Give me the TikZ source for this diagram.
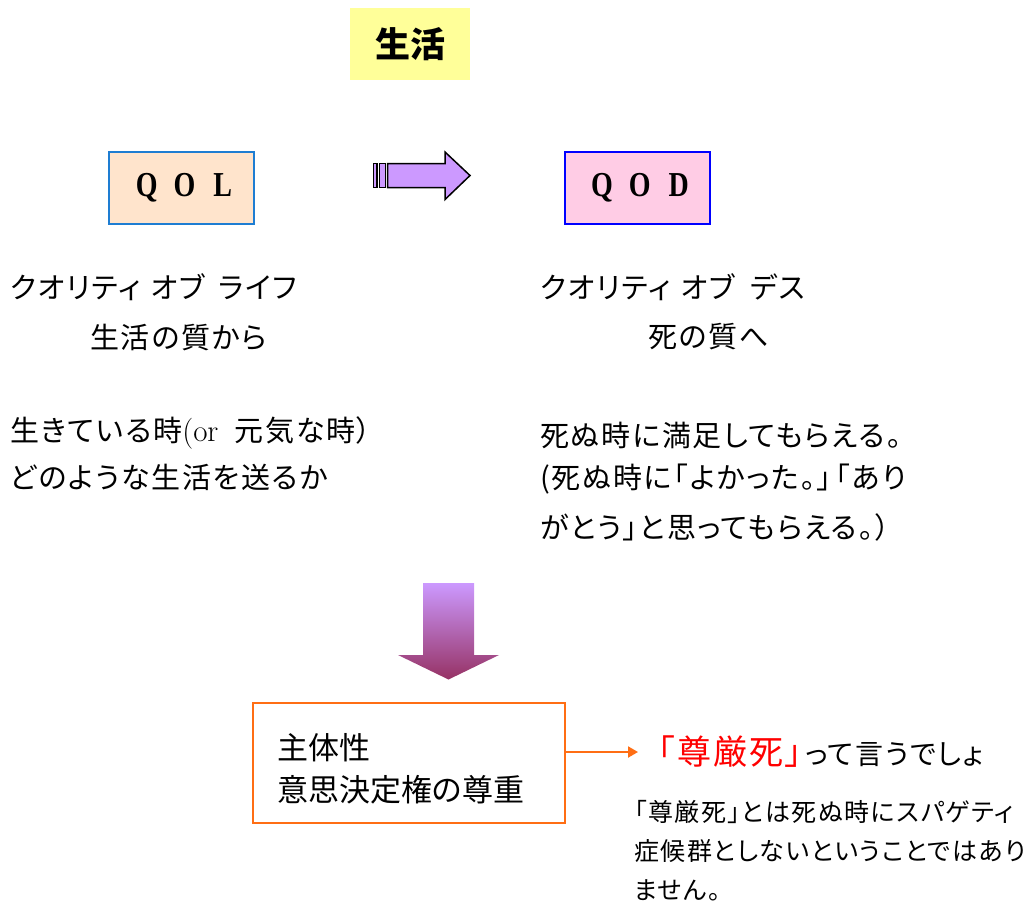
\documentclass[tikz,border=0pt]{standalone}
\usepackage{graphicx}
\usepackage{fontspec}
\newfontfamily\jp[RawFeature=+palt]{Noto Sans CJK JP}
\newfontfamily\jpl[RawFeature=+palt, LetterSpace=6]{Noto Sans CJK JP}
\newfontfamily\qfont{Liberation Serif}
\usetikzlibrary{arrows.meta}
\definecolor{titlefill}{RGB}{255,255,153}
\definecolor{qolfill}{RGB}{255,228,204}
\definecolor{qolline}{RGB}{30,125,210}
\definecolor{qodfill}{RGB}{255,204,229}
\definecolor{qodline}{RGB}{0,0,255}
\definecolor{arrowfill}{RGB}{204,153,255}
\definecolor{arrowbot}{RGB}{150,50,100}
\definecolor{orangeline}{RGB}{255,110,20}
\newcommand\qletters[3]{\raisebox{-4pt}{\scalebox{0.8}[1]{#1}\hspace{16pt}\scalebox{0.8}[1]{#2}\hspace{18pt}\scalebox{0.8}[1]{#3}}}
\tikzset{
  body/.style={anchor=west, inner sep=0pt, font=\jpl\fontsize{29}{34}\selectfont},
  note/.style={anchor=west, inner sep=0pt, font=\jpl\fontsize{25}{30}\selectfont},
  qbox/.style={draw, line width=2pt, minimum width=145pt, minimum height=72pt, inner sep=0pt,
    font=\qfont\bfseries\fontsize{35}{40}\selectfont},
  blockarrow/.style={draw=black, line width=1.5pt, fill=arrowfill, line join=miter},
  decbox/.style={draw=orangeline, line width=2pt, fill=white, minimum width=312pt, minimum height=120pt},
  decline/.style={draw=orangeline, line width=2pt, -{Triangle[length=10pt,width=11pt]}}
}
\begin{document}
\begin{tikzpicture}[x=1pt,y=-1pt]
\useasboundingbox (0,0) rectangle (1028,911);

% title
\node[fill=titlefill, minimum width=120pt, minimum height=72pt, inner sep=0pt,
  font=\jp\fontsize{35}{40}\selectfont\bfseries] (title) at (410,44) {生活};

% QOL / QOD boxes
\node[qbox, fill=qolfill, draw=qolline] (qol) at (181.5,187.5) {\hspace*{5pt}\qletters{Q}{O}{L}};
\node[qbox, fill=qodfill, draw=qodline] (qod) at (637.5,187.5) {\hspace*{5pt}\qletters{Q}{O}{D}};

% right block arrow
\draw[blockarrow] (387.5,163.5) -- (445,163.5) -- (445,152) -- (470,175.5) -- (445,199.5) -- (445,187.5) -- (387.5,187.5) -- cycle;
\draw[blockarrow] (373.5,163.5) rectangle (377,187.5);
\draw[blockarrow] (379.5,163.5) rectangle (385.5,187.5);

% left texts
\node[body] (l1) at (10,287) {クオリティ\hspace{10pt}オブ\hspace{14pt}ライフ};
\node[body] (l2) at (90,338) {生活の質から};
\node[body] (l3) at (10,433) {生きている時{\rmfamily\fontsize{31}{34}\selectfont(or}\hspace{16pt}元気な時）};
\node[body] (l4) at (10,477) {どのような生活を送るか};

% right texts
\node[body] (r1) at (540,287) {クオリティ\hspace{10pt}オブ\hspace{16pt}デス};
\node[body] (r2) at (648,337) {死の質へ};
\node[body] (r3) at (540,435) {死ぬ時に満足してもらえる。};
\node[body] (r4) at (540,479) {(死ぬ時に「よかった。」\hspace{4pt}「あり};
\node[body] (r5) at (540,527) {がとう」と思ってもらえる。）};

% down arrow
\shade[top color=arrowfill, bottom color=arrowbot]
  (423,583) -- (474,583) -- (474,655) -- (499,655) -- (448.5,679.5) -- (398,655) -- (423,655) -- cycle;

% decision box
\node[decbox] (dec) at (409,763) {};
\node[anchor=west, inner sep=0pt, font=\jp\fontsize{31}{36}\selectfont] (d1) at (277,748) {主体性};
\node[anchor=west, inner sep=0pt, font=\jp\fontsize{31}{36}\selectfont] (d2) at (277,790) {意思決定権の尊重};

% orange arrow
\coordinate (otip) at (638,752);
\draw[decline] (dec.east |- otip) -- (otip);

% songen-shi
\node[anchor=west, inner sep=0pt] (say) at (658,752)
  {{\jpl\fontsize{34}{38}\selectfont\color{red}「尊厳死」}\hspace{3pt}{\jpl\fontsize{28}{32}\selectfont って言うでしょ}};
\node[note] (n1) at (634,812) {「尊厳死」とは死ぬ時にスパゲティ};
\node[note] (n2) at (634,851) {症候群としないということではあり};
\node[note] (n3) at (634,890) {ません。};
\end{tikzpicture}
\end{document}
